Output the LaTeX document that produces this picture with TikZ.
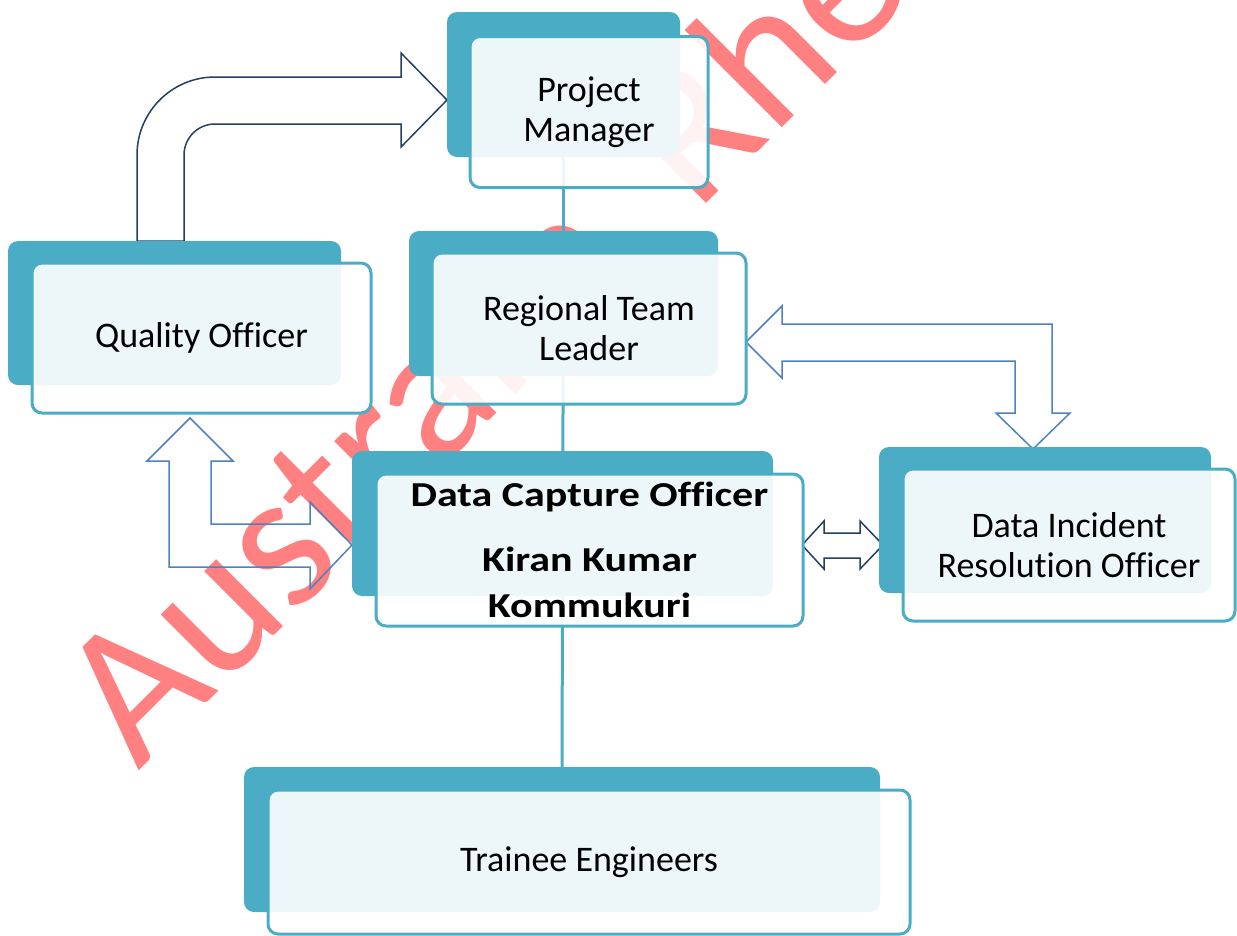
\documentclass[tikz,border=0pt]{standalone}
\usepackage{fontspec}
\setmainfont{Carlito}[Ligatures=NoCommon]
\definecolor{orgteal}{HTML}{4BACC6}
\definecolor{orgnavy}{HTML}{243F60}
\definecolor{orgblue}{HTML}{4F81BD}
\definecolor{markred}{HTML}{FF8080}
\tikzset{
  org back/.style={
    rectangle, rounded corners=10pt, fill=orgteal,
    inner sep=0pt
  },
  org box/.style={
    rectangle, rounded corners=10pt, draw=orgteal, line width=3pt,
    fill=white, fill opacity=0.9, text opacity=1,
    align=center, inner sep=0pt,
    font=\fontsize{36}{40}\selectfont
  },
  org bold/.style={
    org box, font=\bfseries\fontsize{35}{46}\selectfont
  },
  org line/.style={
    draw=orgteal, line width=3pt
  },
  block arrow/.style={
    draw=orgblue, line width=1.5pt, line join=miter
  },
  block arrow dark/.style={
    block arrow, draw=orgnavy
  },
  stamp text/.style={
    text=markred, font=\fontsize{198}{198}\selectfont,
    rotate=45, anchor=base west, inner sep=0pt
  }
}

\begin{document}
\begin{tikzpicture}[x=1pt, y=-1pt]
  \useasboundingbox (0,0) rectangle (1237,935);

  \node (stamp) [stamp text] at (138,772) {Australia\hspace{40pt} Rhe};

  % block arrows
  \draw [block arrow dark] (137,241) -- (137,155)
    arc[start angle=180, end angle=270, radius=78] -- (401,77) -- (401,53)
    -- (447,100) -- (401,147) -- (401,124) -- (215,124)
    arc[start angle=270, end angle=180, radius=31] -- (184,241) -- cycle;
  \draw [block arrow] (746,342) -- (782,306) -- (782,324) -- (1052,324)
    -- (1052,413) -- (1070,413) -- (1033,449) -- (996,413) -- (1015,413)
    -- (1015,361) -- (782,361) -- (782,378) -- cycle;
  \draw [block arrow] (190,418) -- (233,461) -- (211,461) -- (211,524)
    -- (310,524) -- (310,502) -- (352,545) -- (310,589) -- (310,567)
    -- (169,567) -- (169,461) -- (147,461) -- cycle;
  \draw [block arrow dark] (802,545) -- (824,521) -- (824,533) -- (860,533)
    -- (860,521) -- (883,545) -- (860,569) -- (860,558) -- (824,558)
    -- (824,569) -- cycle;

  % back plates
  \node (pm back) [org back, minimum width=233, minimum height=145] at (563.5,84.5) {};
  \node (rtl back) [org back, minimum width=309, minimum height=145] at (563.5,303.5) {};
  \node (qo back) [org back, minimum width=333, minimum height=144] at (174.5,313) {};
  \node (dco back) [org back, minimum width=421, minimum height=145] at (562.5,523.5) {};
  \node (diro back) [org back, minimum width=332, minimum height=146] at (1045,520) {};
  \node (te back) [org back, minimum width=636, minimum height=145] at (562,839.5) {};

  \draw [org line] (pm back) -- (rtl back);
  \draw [org line] (rtl back) -- (dco back);
  \draw [org line] (dco back) -- (te back);

  % front cards
  \node (pm) [org box, minimum width=238, minimum height=151] at (589,112) {Project\\Manager};
  \node (rtl) [org box, minimum width=314, minimum height=151] at (589,328.5) {Regional Team\\Leader};
  \node (qo) [org box, minimum width=339, minimum height=150] at (201.5,338) {Quality Officer};
  \node (dco) [org bold, minimum width=427, minimum height=152] at (589.5,550)
    {\scalebox{1.2}[1]{Data Capture Officer}\\[19pt]\scalebox{1.2}[1]{Kiran Kumar}\\\scalebox{1.2}[1]{Kommukuri}};
  \node (diro) [org box, minimum width=332, minimum height=152] at (1069,545) {Data Incident\\Resolution Officer};
  \node (te) [org box, minimum width=642, minimum height=144] at (589,862) {Trainee Engineers};
\end{tikzpicture}
\end{document}
